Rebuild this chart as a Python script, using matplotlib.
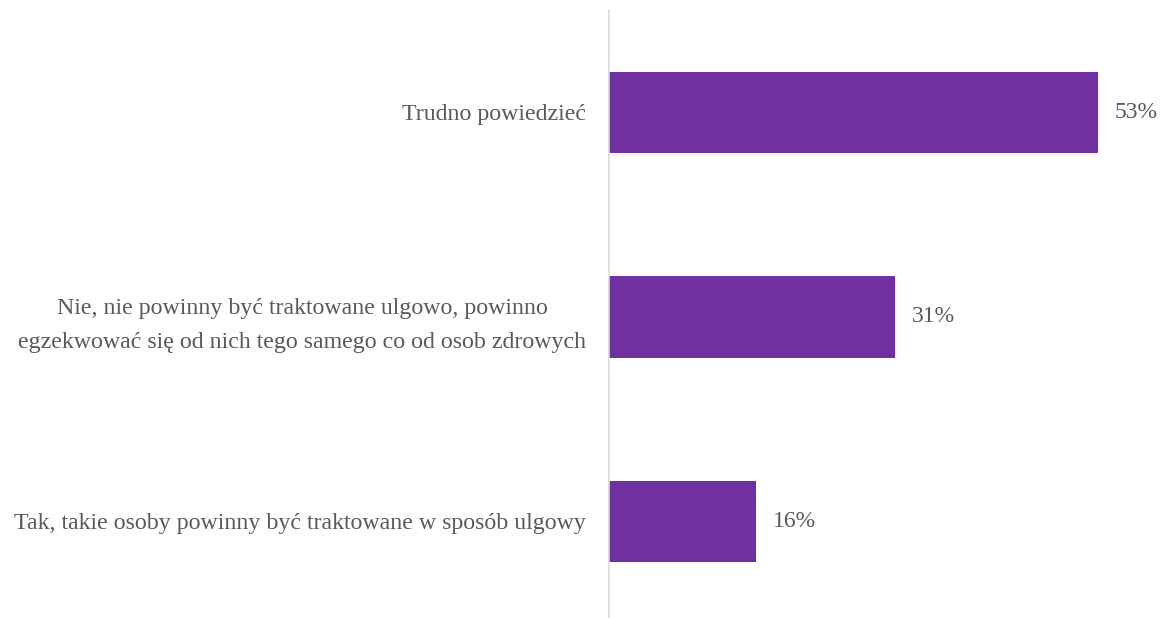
import matplotlib.pyplot as plt

categories = [
    "Tak, takie osoby powinny być traktowane w sposób ulgowy",
    "Nie, nie powinny być traktowane ulgowo, powinno\negzekwować się od nich tego samego co od osob zdrowych",
    "Trudno powiedzieć",
]
values = [16, 31, 53]

bar_color = "#7030A0"
text_color = "#595959"

plt.rcParams["font.family"] = ["Liberation Serif", "DejaVu Serif"]

fig = plt.figure(figsize=(11.64, 6.18), dpi=100)
ax = fig.add_axes([608.5 / 1164, 0, 1 - 608.5 / 1164, 1 - 10 / 618])

pos = list(range(len(categories)))
bars = ax.barh(pos, values, height=0.4, color=bar_color)

ax.set_xlim(0, 60.2)
ax.set_ylim(-0.472, 2.501)

for p, v in zip(pos, values):
    ax.text(v + 1.85, p, f"{v}%", va="center", ha="left",
            fontsize=17, color=text_color)

ax.set_yticks(pos)
ax.set_yticklabels(categories, fontsize=17.2, color=text_color,
                   multialignment="center", linespacing=1.8)
ax.tick_params(axis="y", length=0, pad=16)
ax.set_xticks([])

for s in ["top", "right", "bottom"]:
    ax.spines[s].set_visible(False)
ax.spines["left"].set_color("#D9D9D9")
ax.spines["left"].set_linewidth(1.2)

fig.savefig("out.png", dpi=100)
